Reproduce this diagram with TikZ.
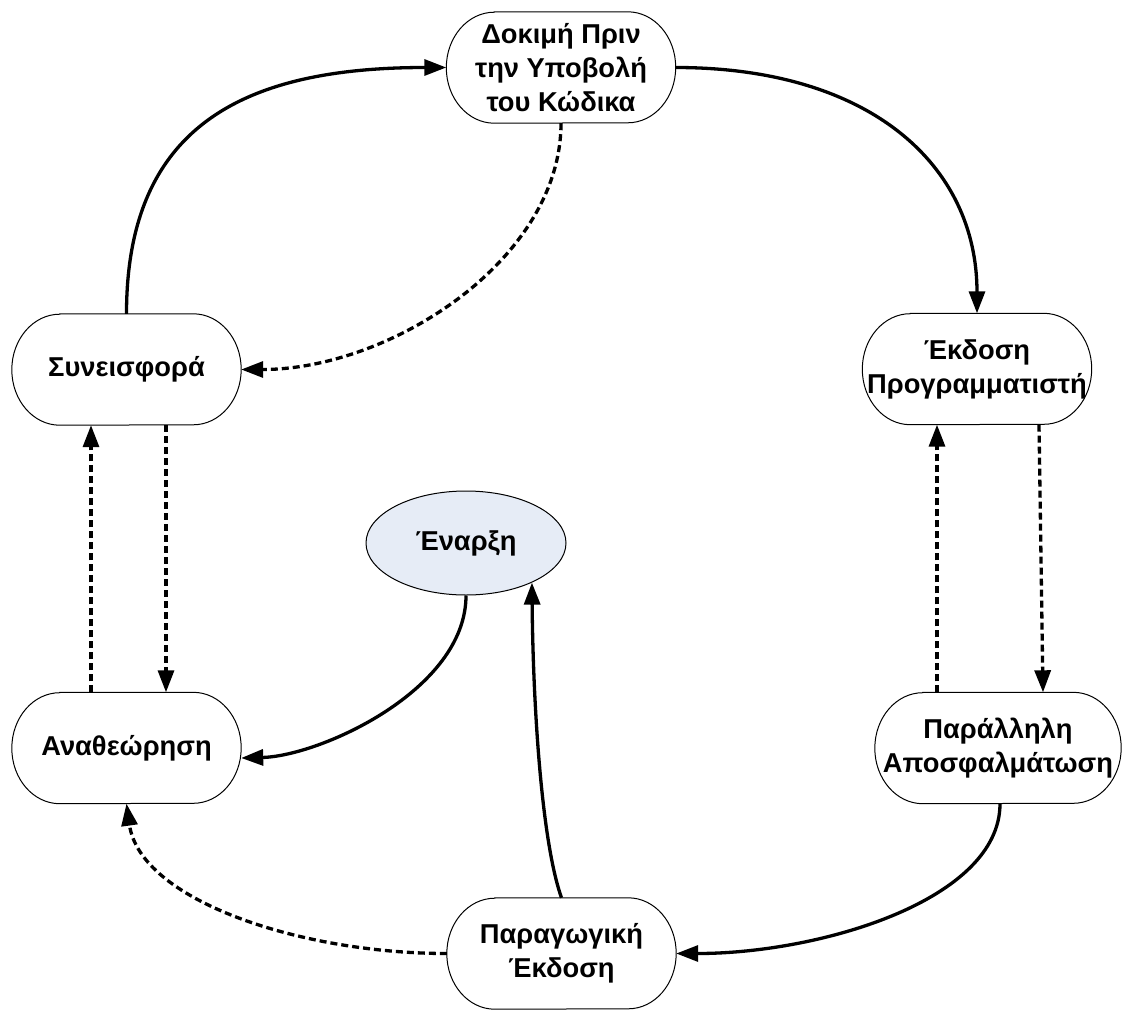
\documentclass[tikz,border=0pt]{standalone}
\usepackage{fontspec}
\setmainfont{Liberation Sans}
\usetikzlibrary{arrows.meta,shapes.geometric}

\tikzset{
  stage/.style={minimum width=229pt, minimum height=111pt, inner sep=0pt, align=center,
    font=\fontsize{27.3}{34}\selectfont\bfseries},
  flow/.style={line width=3.3pt, -{Triangle[length=22pt,width=16pt]}},
  back/.style={flow, dash pattern=on 7pt off 4pt}
}

\begin{document}
\begin{tikzpicture}[x=1pt, y=-1pt]
  \useasboundingbox (0,0) rectangle (1122,1010);

  % process stages
  \node[stage] (test) at (561,67.5) {Δοκιμή Πριν\\την Υποβολή\\του Κώδικα};
  \node[stage] (contrib) at (126.5,369.5) {Συνεισφορά};
  \node[stage] (devrel) at (977,369) {Έκδοση\\Προγραμματιστή};
  \node[stage] (review) at (126.5,748) {Αναθεώρηση};
  \node[stage, minimum width=246pt] (pardebug) at (998,748) {Παράλληλη\\Αποσφαλμάτωση};
  \node[stage] (prod) at (561.5,953.5) {Παραγωγική\\Έκδοση};

  % terminator outlines with elliptical ends
  \foreach \n in {test,contrib,devrel,review,pardebug,prod}{
    \draw[line width=1pt]
      ([xshift=48pt]\n.north west) -- ([xshift=-48pt]\n.north east)
      arc[start angle=90, end angle=-90, x radius=48pt, y radius=55.5pt]
      -- ([xshift=48pt]\n.south west)
      arc[start angle=270, end angle=90, x radius=48pt, y radius=55.5pt]
      -- cycle;
  }

  % start state
  \node[ellipse, draw=black, line width=1pt, fill={rgb,255:red,230;green,236;blue,246},
        minimum width=200pt, minimum height=104pt, inner sep=0pt,
        font=\fontsize{27.3}{34}\selectfont\bfseries] (start) at (466,543) {Έναρξη};

  % main cycle
  \draw[flow] (contrib.north) .. controls (126.5,125) and (245,67.5) .. (test.west);
  \draw[flow] (test.east) .. controls (870,67.5) and (977,165) .. (devrel.north);
  \draw[back] (test.south) .. controls (561,260) and (390,369.5) .. (contrib.east);

  % left column
  \draw[back] ([xshift=-35.5pt]review.north) -- ([xshift=-35.5pt]contrib.south);
  \draw[back] ([xshift=39.5pt]contrib.south) -- ([xshift=39.5pt]review.north);

  % right column
  \draw[back] ([xshift=-61pt]pardebug.north) -- ([xshift=-40pt]devrel.south);
  \draw[back] ([xshift=62pt]devrel.south) -- ([xshift=45pt]pardebug.north);

  % lower part
  \draw[flow] (start.south) .. controls (466,690) and (320,756) .. ([yshift=-10pt]review.east);
  \draw[flow] (prod.north) .. controls (541,840) and (533,700) .. (start.-31);
  \draw[back] (prod.west) .. controls (300,953.5) and (140,900) .. (review.south);
  \draw[flow] ([xshift=2pt]pardebug.south) .. controls (1000,900) and (820,953.5) .. (prod.east);
\end{tikzpicture}
\end{document}
